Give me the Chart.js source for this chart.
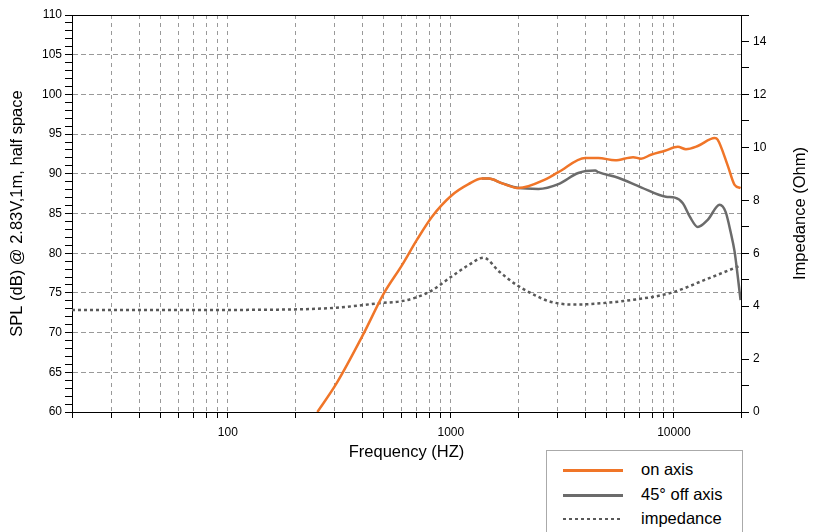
<!DOCTYPE html>
<html>
<head>
<meta charset="utf-8">
<script src="https://cdn.jsdelivr.net/npm/chart.js@4.4.1/dist/chart.umd.min.js"></script>
<style>
  html, body { margin: 0; padding: 0; background: #fff; }
  #wrap { position: relative; width: 819px; height: 532px; overflow: hidden; }
  #legend {
    position: absolute; left: 546px; top: 450px; width: 197px; height: 100px;
    border: 1px solid #aaa; box-sizing: border-box; background: #fff;
    font-family: "Liberation Sans", Arial, sans-serif; font-size: 16.5px; color: #000;
  }
  .row { position: absolute; left: 0; height: 20px; width: 100%; }
  .swatch { position: absolute; left: 16px; width: 60px; top: 9px; }
  .label { position: absolute; left: 94px; top: 0px; line-height: 19px; }
</style>
</head>
<body>
<div id="wrap">
  <canvas id="chart"></canvas>
  <div id="legend"></div>
</div>
<script>
// 주파수 (Hz) / 음압 (dB) - 정면
const onAxisFreq = [252, 307, 405, 502, 604, 705, 823, 1010, 1200, 1375, 1478, 1700, 2012, 2656, 3035, 4005, 4585, 5453, 6561, 7125, 7890, 9120, 10420, 11320, 12800, 15240, 15710, 17410, 18720, 19910];
const onAxisSpl  = [60.0, 63.6, 69.8, 75.0, 78.5, 81.7, 84.6, 87.3, 88.7, 89.4, 89.4, 88.8, 88.2, 89.3, 90.2, 92.0, 92.0, 91.7, 92.1, 91.9, 92.4, 92.9, 93.4, 93.1, 93.5, 94.5, 94.3, 91.1, 88.6, 88.2];

// 45도 측면
const offAxisFreq = [1375, 1478, 1700, 2012, 2471, 3035, 3727, 4440, 4585, 5623, 7125, 9210, 10095, 10970, 11790, 12800, 14180, 16040, 17060, 17960, 18720, 19300, 19910];
const offAxisSpl  = [89.4, 89.4, 88.8, 88.2, 88.1, 88.7, 90.1, 90.4, 90.2, 89.5, 88.3, 87.1, 87.0, 86.3, 84.6, 83.3, 84.2, 86.1, 85.2, 82.7, 80.2, 77.3, 74.1];

// 임피던스 (Ohm)
const impFreq = [20, 50, 129, 294, 492, 604, 705, 814, 1000, 1200, 1400, 1650, 1972, 2400, 2738, 3500, 4260, 6430, 9700, 13750, 19720];
const impOhm  = [3.85, 3.85, 3.86, 3.93, 4.12, 4.19, 4.34, 4.57, 5.10, 5.55, 5.83, 5.30, 4.80, 4.40, 4.19, 4.06, 4.08, 4.23, 4.50, 4.99, 5.52];

// 축 눈금
const freqTicks  = [20, 30, 40, 50, 60, 70, 80, 90, 100, 200, 300, 400, 500, 600, 700, 800, 900,
                    1000, 2000, 3000, 4000, 5000, 6000, 7000, 8000, 9000, 10000, 20000];
const freqLabels = [100, 1000, 10000];

const FONT = '"Liberation Sans", Arial, sans-serif';
const pts = (xs, ys) => xs.map((x, i) => ({x: x, y: ys[i]}));

// 위쪽 테두리 + 오른쪽 축 제목 (아래에서 위로 읽힘)
const framePlugin = {
  id: 'frame',
  afterDraw(chart) {
    const {ctx, chartArea: a} = chart;
    ctx.save();
    ctx.strokeStyle = '#000';
    ctx.lineWidth = 1;
    ctx.beginPath();
    ctx.moveTo(a.left, Math.round(a.top) + 0.5);
    ctx.lineTo(a.right, Math.round(a.top) + 0.5);
    ctx.stroke();
    ctx.translate(chart.scales.y2.right - 19, (a.top + a.bottom) / 2);
    ctx.rotate(-Math.PI / 2);
    ctx.font = '16.5px ' + FONT;
    ctx.fillStyle = '#000';
    ctx.textAlign = 'center';
    ctx.textBaseline = 'middle';
    ctx.fillText('Impedance (Ohm)', 0, 0);
    ctx.restore();
  }
};

const chart = new Chart(document.getElementById('chart'), {
  type: 'line',
  data: {
    datasets: [{
      label: 'on axis',
      data: pts(onAxisFreq, onAxisSpl),
      borderColor: '#f07528',
      borderWidth: 2.5,
      yAxisID: 'y'
    }, {
      label: '45° off axis',
      data: pts(offAxisFreq, offAxisSpl),
      borderColor: '#6b6b6b',
      borderWidth: 2.5,
      yAxisID: 'y'
    }, {
      label: 'impedance',
      data: pts(impFreq, impOhm),
      borderColor: '#595959',
      borderWidth: 2.5,
      borderDash: [3, 3],
      yAxisID: 'y2'
    }]
  },
  options: {
    responsive: true,
    maintainAspectRatio: false,
    animation: false,
    parsing: false,
    elements: {
      point: { radius: 0 },
      line: { cubicInterpolationMode: 'monotone', fill: false }
    },
    layout: { padding: { left: 0, right: 0, top: 15, bottom: 67 } },
    plugins: { legend: { display: false }, tooltip: { enabled: false } },
    scales: {
      x: {
        type: 'logarithmic',
        min: 20,
        max: 20000,
        afterBuildTicks: (scale) => { scale.ticks = freqTicks.map(v => ({value: v})); },
        afterFit: (scale) => { scale.height = 53; },
        ticks: {
          autoSkip: false,
          maxRotation: 0,
          padding: 7,
          color: '#000',
          font: { family: FONT, size: 12 },
          callback: (v) => freqLabels.includes(v) ? String(v) : ''
        },
        grid: { color: '#999', lineWidth: 1, tickLength: 6, tickColor: '#000' },
        border: { color: '#000', width: 1, dash: [4, 4] },
        title: {
          display: true, text: 'Frequency (HZ)', color: '#000',
          font: { family: FONT, size: 16.5 }, padding: { top: 0, bottom: 3 }
        }
      },
      y: {
        position: 'left',
        min: 60,
        max: 110,
        afterFit: (scale) => { scale.width = 72; },
        ticks: {
          stepSize: 1,
          autoSkip: false,
          padding: 3,
          color: '#000',
          font: { family: FONT, size: 12 },
          callback: (v) => v % 5 === 0 ? String(v) : ''
        },
        grid: {
          color: (c) => (c.tick && c.tick.value % 5 === 0) ? '#999' : 'rgba(0,0,0,0)',
          lineWidth: 1, tickLength: 7, tickColor: '#000'
        },
        border: { color: '#000', width: 1, dash: [5, 3] },
        title: {
          display: true, text: 'SPL (dB) @ 2.83V,1m, half space', color: '#000',
          font: { family: FONT, size: 16.5 }, padding: { top: 8, bottom: 0 }
        }
      },
      y2: {
        position: 'right',
        min: 0,
        max: 15,
        afterFit: (scale) => { scale.width = 78; },
        ticks: {
          stepSize: 1,
          autoSkip: false,
          padding: 4,
          color: '#000',
          font: { family: FONT, size: 12 },
          callback: (v) => v % 2 === 0 ? String(v) : ''
        },
        grid: { drawOnChartArea: false, color: '#000', tickLength: 8, tickColor: '#000' },
        border: { color: '#000', width: 1 }
      }
    }
  },
  plugins: [framePlugin]
});

// 범례 (HTML)
const legendEl = document.getElementById('legend');
chart.data.datasets.forEach((ds, i) => {
  const row = document.createElement('div');
  row.className = 'row';
  row.style.top = (9 + i * 24.5) + 'px';
  const sw = document.createElement('div');
  sw.className = 'swatch';
  if (ds.borderDash) {
    sw.style.height = '2px';
    sw.style.background = 'repeating-linear-gradient(to right, ' + ds.borderColor + ' 0 3px, transparent 3px 6px)';
  } else {
    sw.style.height = '3px';
    sw.style.background = ds.borderColor;
  }
  const lb = document.createElement('div');
  lb.className = 'label';
  lb.textContent = ds.label;
  row.appendChild(sw);
  row.appendChild(lb);
  legendEl.appendChild(row);
});
</script>
</body>
</html>
